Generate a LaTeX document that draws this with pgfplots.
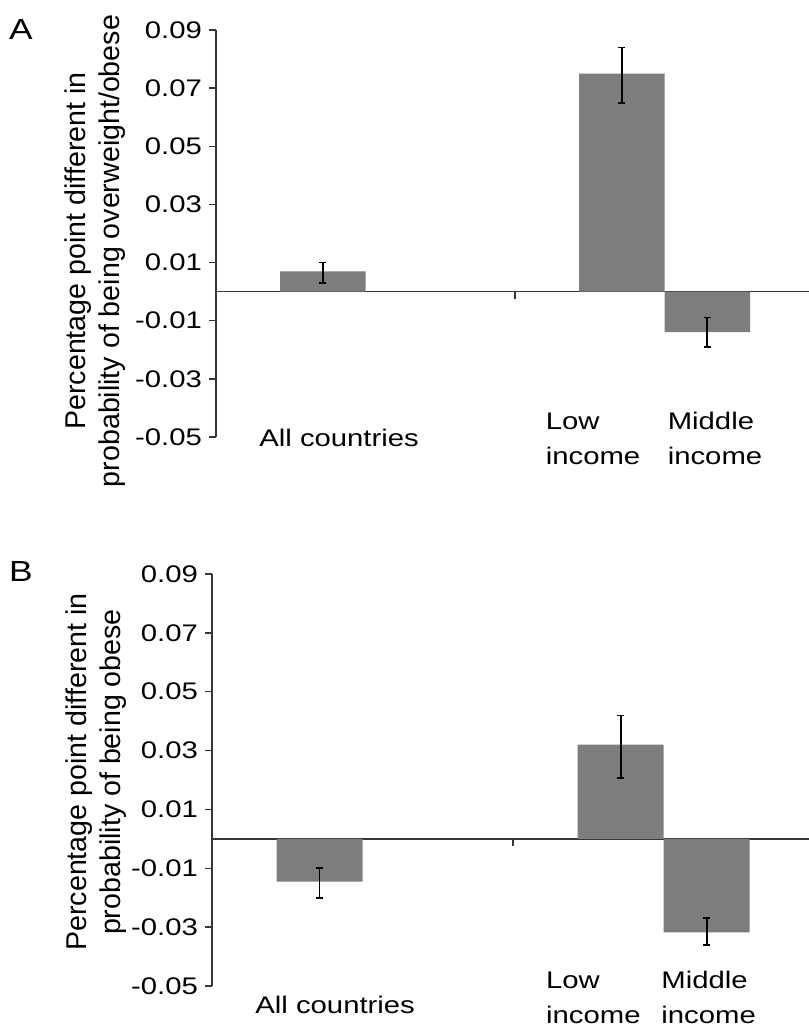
\documentclass[border=0pt]{standalone}
\usepackage{fontspec}
\setmainfont{Liberation Sans}[FakeStretch=1.22]
\newfontfamily\labfont{Liberation Sans}
\usepackage{pgfplots}
\pgfplotsset{compat=1.18}
\definecolor{barg}{RGB}{127,124,125}
\definecolor{axg}{RGB}{55,55,55}
\pgfplotstableread{
x y ep em
1.25 0.0070 0.0030 0.0041
4.75 0.0750 0.0090 0.0100
5.75 -0.0139 0.0050 0.0051
}\tabA
\pgfplotstableread{
x y ep em
1.25 -0.0145 0.0047 0.0055
4.75 0.0320 0.0099 0.0112
5.75 -0.0318 0.0049 0.0042
}\tabB
\pgfplotsset{panel/.style={
  scale only axis,
  xmin=0, xmax=6.94, ymin=-0.05, ymax=0.09,
  axis y line=left, axis x line=middle,
  axis line style={-, axg, line width=0.7pt},
  ytick={-0.05,-0.03,-0.01,0.01,0.03,0.05,0.07,0.09},
  scaled y ticks=false,
  /pgf/number format/fixed,
  /pgf/number format/fixed zerofill,
  /pgf/number format/precision=2,
  /pgf/number format/assume math mode=true,
  xtick={3.5}, xticklabels={},
  tick align=outside, major tick length=3.5pt,
  tick style={axg, line width=0.7pt},
  ticklabel style={font=\fontsize{12}{14}\selectfont},
  clip=false,
},
bars/.style={ybar, bar width=1, fill=barg, draw=none,
  error bars/.cd, y dir=both, y explicit,
  error bar style={draw=black, line width=0.9pt},
  error mark=-,
  error mark options={rotate=90, draw=black, fill=black, line width=0.9pt, mark size=1.75pt}}
}
\tikzset{cat/.style={anchor=base west, inner sep=0pt, font=\fontsize{12}{14}\selectfont}}
\begin{document}
\begin{tikzpicture}
\begin{axis}[panel, width=296.5pt, height=203.5pt, at={(108pt,293.5pt)}, anchor=south west]
\addplot[bars] table[x=x, y=y, y error plus=ep, y error minus=em]{\tabA};
\node[cat] at (axis cs:0.503,-0.0531) {All countries};
\node[cat] at (axis cs:3.856,-0.0473) {Low};
\node[cat] at (axis cs:3.856,-0.0594) {income};
\node[cat] at (axis cs:5.283,-0.0473) {Middle};
\node[cat] at (axis cs:5.283,-0.0594) {income};
\end{axis}
\begin{axis}[panel, width=298.5pt, height=206pt, at={(106pt,19pt)}, anchor=south west]
\addplot[bars] table[x=x, y=y, y error plus=ep, y error minus=em]{\tabB};
\node[cat] at (axis cs:0.5,-0.0594) {All countries};
\node[cat] at (axis cs:3.88,-0.0509) {Low};
\node[cat] at (axis cs:3.88,-0.0628) {income};
\node[cat] at (axis cs:5.22,-0.0509) {Middle};
\node[cat] at (axis cs:5.22,-0.0628) {income};
\end{axis}
\node[rotate=90, align=center, font=\labfont\fontsize{14.3}{17}\selectfont] at (47.5pt,386.5pt) {Percentage point different in\\probability of being overweight/obese};
\node[rotate=90, align=center, font=\labfont\fontsize{14.3}{17}\selectfont] at (48pt,126pt) {Percentage point different in\\probability of being obese};
\node[font=\fontsize{14.5}{16}\selectfont] at (10.5pt,497pt) {A};
\node[font=\fontsize{14.5}{16}\selectfont] at (10.5pt,226pt) {B};
\pgfresetboundingbox
\useasboundingbox (0,0) rectangle (404.5pt,512pt);
\end{tikzpicture}
\end{document}
